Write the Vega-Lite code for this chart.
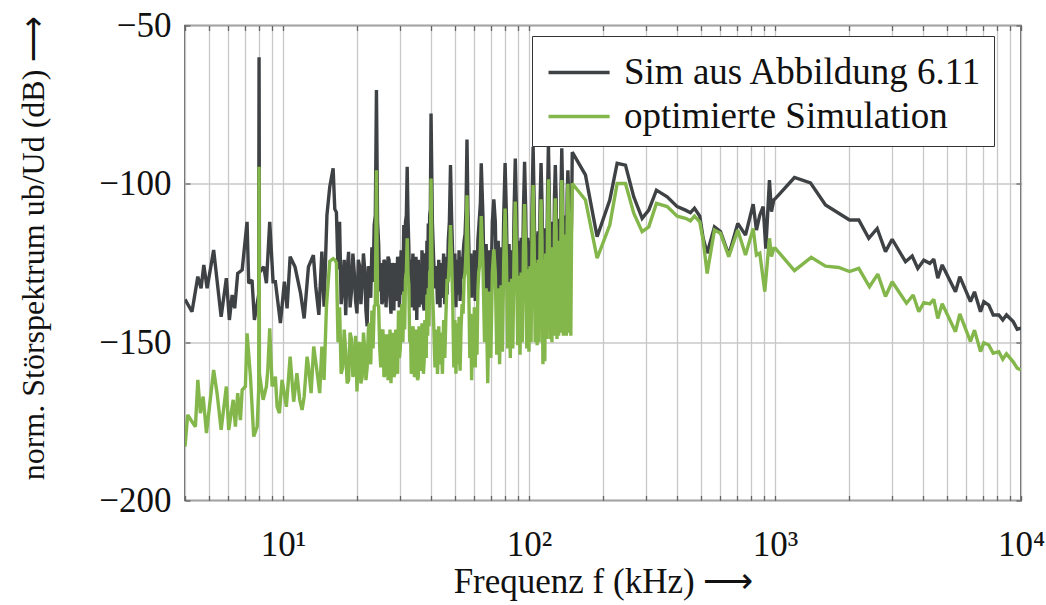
{
  "$schema": "https://vega.github.io/schema/vega-lite/v6.json",
  "autosize": {"type": "none"},
  "width": 836,
  "height": 475,
  "padding": {"left": 185, "top": 25.5, "right": 25, "bottom": 104},
  "background": "white",
  "config": {
    "font": "Liberation Serif",
    "view": {"stroke": "#3a3a3a", "strokeWidth": 1.5},
    "axis": {
      "labelFont": "Liberation Serif",
      "titleFont": "Liberation Serif",
      "labelColor": "#111111",
      "titleColor": "#111111",
      "labelFontSize": 35,
      "titleFontSize": 35,
      "titleFontWeight": "normal",
      "gridColor": "#c8c8c8",
      "gridWidth": 1.3,
      "domain": false,
      "ticks": true,
      "tickSize": -5,
      "tickColor": "#666666",
      "tickWidth": 1.3,
      "labelBound": false,
      "labelOverlap": false,
      "labelFlush": false
    },
    "legend": {
      "orient": "none",
      "legendX": 347,
      "legendY": 10.5,
      "strokeColor": "#333333",
      "fillColor": "white",
      "padding": 11,
      "symbolType": "M-0.85,0H1.75",
      "symbolStrokeWidth": 3.4,
      "symbolSize": 2209,
      "labelFont": "Liberation Serif",
      "labelFontSize": 37,
      "labelColor": "#111111",
      "labelOffset": 30,
      "rowPadding": 0,
      "labelLimit": 700
    }
  },
  "resolve": {"axis": {"x": "independent", "y": "independent"}},
  "datasets": {
    "sim": [
      {"f":4.0,"v":-136.5},{"f":4.27,"v":-140.4},{"f":4.51,"v":-129.3},{"f":4.65,"v":-133.0},{"f":4.77,"v":-125.6},{"f":4.92,"v":-133.0},{"f":5.23,"v":-120.9},{"f":5.61,"v":-142.0},{"f":5.89,"v":-129.8},{"f":6.06,"v":-143.0},{"f":6.22,"v":-135.1},{"f":6.37,"v":-139.3},{"f":6.55,"v":-128.3},{"f":6.83,"v":-127.2},{"f":7.15,"v":-112.0},{"f":7.26,"v":-131.4},{"f":7.49,"v":-130.4},{"f":7.66,"v":-143.0},{"f":7.97,"v":-135},{"f":8.0,"v":-60},{"f":8.03,"v":-128},{"f":8.36,"v":-126.2},{"f":8.57,"v":-131.4},{"f":8.84,"v":-112.0},{"f":9.12,"v":-130.9},{"f":9.32,"v":-130.9},{"f":9.77,"v":-144.0},{"f":10.14,"v":-130.9},{"f":10.4,"v":-139.3},{"f":10.7,"v":-123.0},{"f":11.2,"v":-126.2},{"f":11.8,"v":-134.6},{"f":12.2,"v":-142.5},{"f":12.7,"v":-126.2},{"f":13.3,"v":-122.5},{"f":13.6,"v":-132.5},{"f":14.0,"v":-141.4},{"f":14.4,"v":-121.4},{"f":14.7,"v":-138.8},{"f":15.1,"v":-109.9},{"f":15.5,"v":-101},
      {"f":16,"v":-95.1},{"f":16.25,"v":-108},{"f":16.5,"v":-109},{"f":16.75,"v":-127},{"f":17,"v":-112},{"f":17.25,"v":-138},{"f":17.5,"v":-132},{"f":17.75,"v":-124},{"f":18,"v":-141.5},{"f":18.25,"v":-127},{"f":18.5,"v":-121.5},{"f":18.75,"v":-139},{"f":19,"v":-134},{"f":19.25,"v":-122},{"f":19.5,"v":-128},{"f":19.75,"v":-137},{"f":20,"v":-140.9},{"f":20.25,"v":-124},{"f":20.5,"v":-126},{"f":20.75,"v":-138},{"f":21,"v":-131},{"f":21.25,"v":-122},{"f":21.5,"v":-127},{"f":21.75,"v":-140},{"f":22,"v":-145},{"f":22.25,"v":-126},{"f":22.5,"v":-128},{"f":22.75,"v":-136},{"f":23,"v":-120},{"f":23.25,"v":-131},{"f":23.5,"v":-113},{"f":23.75,"v":-110},{"f":24,"v":-70.4},{"f":24.25,"v":-112},{"f":24.5,"v":-119},{"f":24.75,"v":-134},{"f":25,"v":-125},{"f":25.25,"v":-138},{"f":25.5,"v":-136.7},{"f":25.75,"v":-124},{"f":26,"v":-125},{"f":26.25,"v":-139},{"f":26.5,"v":-131},{"f":26.75,"v":-123},{"f":27,"v":-124},{"f":27.25,"v":-136},{"f":27.5,"v":-141},{"f":27.75,"v":-125},{"f":28,"v":-128},{"f":28.25,"v":-140},{"f":28.5,"v":-125},{"f":28.75,"v":-132},{"f":29,"v":-137},{"f":29.25,"v":-123},{"f":29.5,"v":-126},{"f":29.75,"v":-139},{"f":30,"v":-130},{"f":30.25,"v":-121},{"f":30.5,"v":-124},{"f":30.75,"v":-135},{"f":31,"v":-113},{"f":31.25,"v":-128},{"f":31.5,"v":-112},{"f":31.75,"v":-110},{"f":32,"v":-94.6},{"f":32.25,"v":-111},{"f":32.5,"v":-120},{"f":32.75,"v":-136},{"f":33,"v":-124},{"f":33.25,"v":-139},{"f":33.5,"v":-132},{"f":33.75,"v":-122},{"f":34,"v":-127},{"f":34.25,"v":-140},{"f":34.5,"v":-136},{"f":34.75,"v":-123},{"f":35,"v":-143},{"f":35.25,"v":-127},{"f":35.5,"v":-124},{"f":35.75,"v":-139},{"f":36,"v":-126},{"f":36.25,"v":-137},{"f":36.5,"v":-138},{"f":36.75,"v":-121},{"f":37,"v":-125},{"f":37.25,"v":-138},{"f":37.5,"v":-140},{"f":37.75,"v":-124},{"f":38,"v":-122},{"f":38.25,"v":-135},{"f":38.5,"v":-118},{"f":38.75,"v":-128},{"f":39,"v":-112.5},{"f":39.25,"v":-124},{"f":39.5,"v":-110},{"f":39.75,"v":-108},
      {"f":40,"v":-77.8},{"f":40.5,"v":-112},{"f":41,"v":-124},{"f":41.5,"v":-133},{"f":42,"v":-126},{"f":42.5,"v":-138},{"f":43,"v":-124},{"f":43.5,"v":-139},{"f":44,"v":-125},{"f":44.5,"v":-136},{"f":45,"v":-122},{"f":45.5,"v":-138},{"f":46,"v":-123},{"f":46.5,"v":-135},{"f":47,"v":-118},{"f":47.5,"v":-112},{"f":48,"v":-94.1},{"f":48.5,"v":-111},{"f":49,"v":-123},{"f":49.5,"v":-138},{"f":50,"v":-122},{"f":50.5,"v":-139},{"f":51,"v":-124},{"f":51.5,"v":-135},{"f":52,"v":-121},{"f":52.5,"v":-137},{"f":53,"v":-123},{"f":53.5,"v":-130},{"f":54,"v":-122},{"f":54.5,"v":-118},{"f":55,"v":-116},{"f":55.5,"v":-108},{"f":56,"v":-86.0},{"f":56.5,"v":-108},{"f":57,"v":-120},{"f":57.5,"v":-133},{"f":58,"v":-122},{"f":58.5,"v":-136},{"f":59,"v":-124},{"f":59.5,"v":-131},{"f":60,"v":-121},{"f":60.5,"v":-137},{"f":61,"v":-123},{"f":61.5,"v":-132},{"f":62,"v":-118},{"f":62.5,"v":-114},{"f":63,"v":-110},{"f":63.5,"v":-106},
      {"f":64,"v":-93.5},{"f":65,"v":-110},{"f":66,"v":-137},{"f":67,"v":-119},{"f":68,"v":-139},{"f":69,"v":-121},{"f":70,"v":-136},{"f":71,"v":-112},{"f":72,"v":-104.9},{"f":73,"v":-112},{"f":74,"v":-138},{"f":75,"v":-118},{"f":76,"v":-139},{"f":77,"v":-120},{"f":78,"v":-137},{"f":79,"v":-110},{"f":80,"v":-93.4},{"f":81,"v":-110},{"f":82,"v":-136},{"f":83,"v":-119},{"f":84,"v":-135},{"f":85,"v":-121},{"f":86,"v":-137},{"f":87,"v":-109},{"f":88,"v":-92},{"f":89,"v":-109},{"f":90,"v":-135},{"f":91,"v":-118},{"f":92,"v":-136},{"f":93,"v":-117},{"f":94,"v":-134},{"f":95,"v":-108},{"f":96,"v":-93},{"f":97,"v":-108},{"f":98,"v":-134},{"f":99,"v":-117},{"f":100,"v":-135},{"f":101,"v":-118},{"f":102,"v":-133},{"f":103,"v":-106},{"f":104,"v":-88.3},{"f":105,"v":-106},{"f":106,"v":-132},{"f":107,"v":-116},{"f":108,"v":-133},{"f":109,"v":-115},{"f":110,"v":-131},{"f":111,"v":-106},{"f":112,"v":-93.4},{"f":113,"v":-106},{"f":114,"v":-131},{"f":115,"v":-115},{"f":116,"v":-132},{"f":117,"v":-114},{"f":118,"v":-130},{"f":119,"v":-104},{"f":120,"v":-87.2},{"f":121,"v":-104},{"f":122,"v":-130},{"f":123,"v":-113},{"f":124,"v":-131},{"f":125,"v":-112},{"f":126,"v":-129},{"f":127,"v":-104},{"f":128,"v":-94.1},{"f":129,"v":-104},{"f":130,"v":-129},{"f":131,"v":-112},{"f":132,"v":-128},{"f":133,"v":-111},{"f":134,"v":-129},{"f":135,"v":-102},{"f":136,"v":-88.8},{"f":137,"v":-102},{"f":138,"v":-128},{"f":139,"v":-111},{"f":140,"v":-127},{"f":141,"v":-110},{"f":142,"v":-128},{"f":143,"v":-103},{"f":144,"v":-95.7},{"f":145,"v":-103},{"f":146,"v":-127},{"f":147,"v":-110},{"f":148,"v":-126},{"f":149,"v":-111},{"f":150,"v":-90},
      {"f":169.7,"v":-97.2},{"f":189.3,"v":-116.7},{"f":213.1,"v":-105.1},{"f":228.3,"v":-93.5},{"f":246.8,"v":-94.1},{"f":266.7,"v":-104.1},{"f":288.5,"v":-110.9},{"f":306.9,"v":-108.3},{"f":329.8,"v":-102.0},{"f":364.6,"v":-104.1},{"f":400.5,"v":-107.2},{"f":432.7,"v":-108.3},{"f":453.4,"v":-109.1},{"f":470.8,"v":-107.7},{"f":494.7,"v":-110.2},{"f":510.6,"v":-117.2},{"f":530.1,"v":-121.9},{"f":567.6,"v":-113.6},{"f":600.5,"v":-115.1},{"f":649,"v":-122.5},{"f":706,"v":-112.5},{"f":759,"v":-116.2},{"f":815.5,"v":-106.4},{"f":840.9,"v":-114.6},{"f":867.4,"v":-109.9},{"f":895.4,"v":-107.2},{"f":918,"v":-120.5},{"f":949.6,"v":-98.8},{"f":967.8,"v":-108.8},{"f":988.8,"v":-105.1},{"f":1004.7,"v":-104.6},{"f":1036,"v":-103.5},{"f":1200,"v":-98.0},{"f":1394,"v":-99.7},{"f":1605,"v":-106.7},{"f":2009,"v":-111.4},{"f":2191,"v":-111.4},{"f":2406,"v":-117.2},{"f":2603,"v":-114.1},{"f":2813,"v":-121.4},{"f":2995,"v":-117.5},{"f":3393,"v":-124.6},{"f":3612,"v":-122.8},{"f":3806,"v":-126.7},{"f":4026,"v":-124.1},{"f":4259,"v":-125.1},{"f":4421,"v":-123.8},{"f":4590,"v":-129.8},{"f":4783,"v":-125.6},{"f":5416,"v":-134.1},{"f":5640,"v":-129.3},{"f":6232,"v":-137.2},{"f":6471,"v":-134.1},{"f":6845,"v":-140.4},{"f":7062,"v":-137.2},{"f":7398,"v":-138.3},{"f":7709,"v":-141.4},{"f":8125,"v":-141.4},{"f":8433,"v":-143.0},{"f":8730,"v":-141.4},{"f":9296,"v":-143.5},{"f":9651,"v":-145.9},{"f":10000,"v":-145.6}
    ],
    "opt": [
      {"f":4.0,"v":-183},{"f":4.10,"v":-173.0},{"f":4.41,"v":-176.7},{"f":4.51,"v":-161.9},{"f":4.62,"v":-172.4},{"f":4.74,"v":-167.2},{"f":4.89,"v":-178.7},{"f":5.23,"v":-158.8},{"f":5.40,"v":-166.1},{"f":5.61,"v":-177.7},{"f":5.89,"v":-164.0},{"f":6.02,"v":-177.7},{"f":6.28,"v":-168.2},{"f":6.41,"v":-176.7},{"f":6.55,"v":-166.1},{"f":6.72,"v":-174.6},{"f":6.83,"v":-165.1},{"f":7.04,"v":-164.0},{"f":7.15,"v":-147.2},{"f":7.38,"v":-160.9},{"f":7.61,"v":-179.8},{"f":7.86,"v":-176.7},{"f":7.97,"v":-165},{"f":8.0,"v":-94.6},{"f":8.03,"v":-160},{"f":8.31,"v":-168.2},{"f":8.57,"v":-164.0},{"f":8.68,"v":-158.8},{"f":8.84,"v":-145.6},{"f":9.04,"v":-164.0},{"f":9.32,"v":-160.9},{"f":9.47,"v":-170.4},{"f":9.68,"v":-172.4},{"f":9.92,"v":-161.9},{"f":10.33,"v":-170.4},{"f":10.7,"v":-154.6},{"f":11.06,"v":-168.8},{"f":11.4,"v":-159.8},{"f":11.7,"v":-168.2},{"f":11.97,"v":-171.4},{"f":12.2,"v":-167.2},{"f":12.54,"v":-154.6},{"f":12.7,"v":-157.7},{"f":13.02,"v":-166.1},{"f":13.34,"v":-151.4},{"f":13.68,"v":-157.7},{"f":14.11,"v":-166.1},{"f":14.4,"v":-151.4},{"f":14.7,"v":-161.9},{"f":15.03,"v":-138.8},{"f":15.5,"v":-124.5},
      {"f":16,"v":-123.6},{"f":16.25,"v":-124},{"f":16.5,"v":-125},{"f":16.75,"v":-150},{"f":17,"v":-139},{"f":17.25,"v":-160},{"f":17.5,"v":-158},{"f":17.75,"v":-146},{"f":18,"v":-153},{"f":18.25,"v":-163},{"f":18.5,"v":-162},{"f":18.75,"v":-147},{"f":19,"v":-149},{"f":19.25,"v":-161},{"f":19.5,"v":-158},{"f":19.75,"v":-148},{"f":20,"v":-165.6},{"f":20.25,"v":-151},{"f":20.5,"v":-150},{"f":20.75,"v":-163},{"f":21,"v":-161},{"f":21.25,"v":-147},{"f":21.5,"v":-152},{"f":21.75,"v":-162},{"f":22,"v":-158},{"f":22.25,"v":-146},{"f":22.5,"v":-144},{"f":22.75,"v":-157},{"f":23,"v":-140},{"f":23.25,"v":-152},{"f":23.5,"v":-138.8},{"f":23.75,"v":-138},{"f":24,"v":-95.7},{"f":24.25,"v":-138},{"f":24.5,"v":-138.8},{"f":24.75,"v":-152},{"f":25,"v":-158},{"f":25.25,"v":-147},{"f":25.5,"v":-146},{"f":25.75,"v":-161},{"f":26,"v":-160},{"f":26.25,"v":-148},{"f":26.5,"v":-148},{"f":26.75,"v":-162},{"f":27,"v":-158},{"f":27.25,"v":-146},{"f":27.5,"v":-163},{"f":27.75,"v":-149},{"f":28,"v":-147},{"f":28.25,"v":-161},{"f":28.5,"v":-160},{"f":28.75,"v":-146},{"f":29,"v":-152},{"f":29.25,"v":-160},{"f":29.5,"v":-140},{"f":29.75,"v":-155},{"f":30,"v":-152},{"f":30.25,"v":-141},{"f":30.5,"v":-138},{"f":30.75,"v":-150},{"f":31,"v":-134},{"f":31.25,"v":-146},{"f":31.5,"v":-130},{"f":31.75,"v":-128},{"f":32,"v":-117.2},{"f":32.25,"v":-129},{"f":32.5,"v":-132},{"f":32.75,"v":-150},{"f":33,"v":-146},{"f":33.25,"v":-160},{"f":33.5,"v":-159},{"f":33.75,"v":-145},{"f":34,"v":-147},{"f":34.25,"v":-161},{"f":34.5,"v":-160},{"f":34.75,"v":-146},{"f":35,"v":-149},{"f":35.25,"v":-162},{"f":35.5,"v":-161},{"f":35.75,"v":-145},{"f":36,"v":-146},{"f":36.25,"v":-159},{"f":36.5,"v":-158},{"f":36.75,"v":-144},{"f":37,"v":-147},{"f":37.25,"v":-160},{"f":37.5,"v":-156},{"f":37.75,"v":-143},{"f":38,"v":-144},{"f":38.25,"v":-155},{"f":38.5,"v":-135},{"f":38.75,"v":-148},{"f":39,"v":-133},{"f":39.25,"v":-145},{"f":39.5,"v":-128},{"f":39.75,"v":-127},
      {"f":40,"v":-98.3},{"f":40.5,"v":-133},{"f":41,"v":-144},{"f":41.5,"v":-158},{"f":42,"v":-146},{"f":42.5,"v":-160},{"f":43,"v":-145},{"f":43.5,"v":-157},{"f":44,"v":-147},{"f":44.5,"v":-160},{"f":45,"v":-143},{"f":45.5,"v":-155},{"f":46,"v":-141},{"f":46.5,"v":-130},{"f":47,"v":-131},{"f":47.5,"v":-124},{"f":48,"v":-113},{"f":48.5,"v":-124},{"f":49,"v":-137},{"f":49.5,"v":-158},{"f":50,"v":-143},{"f":50.5,"v":-160},{"f":51,"v":-144},{"f":51.5,"v":-157},{"f":52,"v":-142},{"f":52.5,"v":-159},{"f":53,"v":-145},{"f":53.5,"v":-138},{"f":54,"v":-141},{"f":54.5,"v":-130},{"f":55,"v":-128},{"f":55.5,"v":-122},{"f":56,"v":-103.6},{"f":56.5,"v":-121},{"f":57,"v":-135},{"f":57.5,"v":-155},{"f":58,"v":-141},{"f":58.5,"v":-162},{"f":59,"v":-142},{"f":59.5,"v":-155},{"f":60,"v":-139},{"f":60.5,"v":-158},{"f":61,"v":-140},{"f":61.5,"v":-154},{"f":62,"v":-134},{"f":62.5,"v":-128},{"f":63,"v":-126},{"f":63.5,"v":-120},
      {"f":64,"v":-110.2},{"f":65,"v":-125},{"f":66,"v":-150},{"f":67,"v":-133},{"f":68,"v":-163},{"f":69,"v":-134},{"f":70,"v":-155},{"f":71,"v":-128},{"f":72,"v":-120.7},{"f":73,"v":-128},{"f":74,"v":-154},{"f":75,"v":-133},{"f":76,"v":-157},{"f":77,"v":-132},{"f":78,"v":-153},{"f":79,"v":-124},{"f":80,"v":-107.8},{"f":81,"v":-124},{"f":82,"v":-152},{"f":83,"v":-131},{"f":84,"v":-155},{"f":85,"v":-130},{"f":86,"v":-152},{"f":87,"v":-122},{"f":88,"v":-105.6},{"f":89,"v":-122},{"f":90,"v":-151},{"f":91,"v":-129},{"f":92,"v":-154},{"f":93,"v":-128},{"f":94,"v":-150},{"f":95,"v":-121},{"f":96,"v":-106.4},{"f":97,"v":-121},{"f":98,"v":-152},{"f":99,"v":-127},{"f":100,"v":-153},{"f":101,"v":-126},{"f":102,"v":-150},{"f":103,"v":-118},{"f":104,"v":-100.4},{"f":105,"v":-118},{"f":106,"v":-150},{"f":107,"v":-125},{"f":108,"v":-151},{"f":109,"v":-124},{"f":110,"v":-150},{"f":111,"v":-118},{"f":112,"v":-104.9},{"f":113,"v":-118},{"f":114,"v":-157},{"f":115,"v":-124},{"f":116,"v":-156},{"f":117,"v":-122},{"f":118,"v":-149},{"f":119,"v":-114},{"f":120,"v":-98.6},{"f":121,"v":-114},{"f":122,"v":-149},{"f":123,"v":-121},{"f":124,"v":-150},{"f":125,"v":-120},{"f":126,"v":-148},{"f":127,"v":-115},{"f":128,"v":-104.6},{"f":129,"v":-115},{"f":130,"v":-149},{"f":131,"v":-119},{"f":132,"v":-148},{"f":133,"v":-118},{"f":134,"v":-147},{"f":135,"v":-112},{"f":136,"v":-98.8},{"f":137,"v":-112},{"f":138,"v":-148},{"f":139,"v":-117},{"f":140,"v":-146},{"f":141,"v":-116},{"f":142,"v":-148},{"f":143,"v":-113},{"f":144,"v":-100},{"f":145,"v":-113},{"f":146,"v":-147},{"f":147,"v":-115},{"f":148,"v":-148},{"f":149,"v":-116},{"f":150,"v":-99.9},
      {"f":169.7,"v":-105.1},{"f":189.3,"v":-123.5},{"f":213.1,"v":-113.0},{"f":228.3,"v":-99.9},{"f":246.8,"v":-99.9},{"f":266.7,"v":-109.3},{"f":288.5,"v":-115.1},{"f":306.9,"v":-113.6},{"f":329.8,"v":-106.2},{"f":364.6,"v":-107.2},{"f":400.5,"v":-110.2},{"f":432.7,"v":-110.9},{"f":453.4,"v":-111.7},{"f":470.8,"v":-110.2},{"f":494.7,"v":-112.0},{"f":510.6,"v":-117.8},{"f":530.1,"v":-128.3},{"f":567.6,"v":-114.6},{"f":600.5,"v":-115.6},{"f":649,"v":-123.0},{"f":706,"v":-114.6},{"f":759,"v":-122.5},{"f":815.5,"v":-114.1},{"f":840.9,"v":-122.5},{"f":867.4,"v":-121.9},{"f":909,"v":-134},{"f":949.6,"v":-117.2},{"f":967.8,"v":-123.0},{"f":988.8,"v":-120.4},{"f":1004.7,"v":-120.4},{"f":1200,"v":-127.4},{"f":1404,"v":-123.2},{"f":1605,"v":-126.0},{"f":1817,"v":-126.4},{"f":2009,"v":-127.7},{"f":2191,"v":-126.7},{"f":2422,"v":-132.5},{"f":2618,"v":-128.5},{"f":2813,"v":-135.6},{"f":2995,"v":-130.9},{"f":3425,"v":-137.7},{"f":3646,"v":-135.1},{"f":3842,"v":-140.4},{"f":4026,"v":-137.5},{"f":4259,"v":-137.9},{"f":4421,"v":-136.5},{"f":4590,"v":-142.5},{"f":4783,"v":-137.9},{"f":5416,"v":-146.7},{"f":5640,"v":-141.1},{"f":6232,"v":-149.8},{"f":6471,"v":-146.2},{"f":6845,"v":-153.0},{"f":7062,"v":-150.2},{"f":7398,"v":-150.9},{"f":7709,"v":-153.5},{"f":8125,"v":-153.0},{"f":8433,"v":-155.4},{"f":8730,"v":-153.7},{"f":9296,"v":-156.2},{"f":9651,"v":-158.2},{"f":10000,"v":-158.8}
    ]
  },
  "layer": [
    {
      "data": {"name": "sim"},
      "mark": {"type": "line", "strokeWidth": 3.4, "clip": true, "strokeJoin": "miter", "strokeMiterLimit": 2},
      "encoding": {
        "x": {
          "field": "f",
          "type": "quantitative",
          "scale": {"type": "log", "domain": [4, 10000], "nice": false},
          "axis": {
            "title": "Frequenz f (kHz) ⟶",
            "values": [4,5,6,7,8,9,10,20,30,40,50,60,70,80,90,100,200,300,400,500,600,700,800,900,1000,2000,3000,4000,5000,6000,7000,8000,9000,10000],
            "labelExpr": "datum.value == 10 ? '10¹' : datum.value == 100 ? '10²' : datum.value == 1000 ? '10³' : datum.value == 10000 ? '10⁴' : ''",
            "grid": true,
            "labelPadding": 32,
            "titlePadding": 2
          }
        },
        "y": {
          "field": "v",
          "type": "quantitative",
          "scale": {"domain": [-200, -50], "nice": false, "zero": false},
          "axis": {
            "title": "norm. Störspektrum ub/Ud (dB) ⟶",
            "titleFontSize": 32,
            "values": [-200, -150, -100, -50],
            "labelExpr": "'−' + abs(datum.value)",
            "grid": true,
            "labelPadding": 19,
            "titlePadding": 48,
            "titleY": 222
          }
        },
        "color": {
          "datum": "Sim aus Abbildung 6.11",
          "scale": {"domain": ["Sim aus Abbildung 6.11", "optimierte Simulation"], "range": ["#3f4244", "#84b74b"]},
          "legend": {"title": null, "labelExpr": "datum.label + '\u00a0\u00a0\u00a0'"}
        }
      }
    },
    {
      "data": {"name": "opt"},
      "mark": {"type": "line", "strokeWidth": 3.4, "clip": true, "strokeJoin": "miter", "strokeMiterLimit": 2},
      "encoding": {
        "x": {
          "field": "f",
          "type": "quantitative",
          "scale": {"type": "log", "domain": [4, 10000], "nice": false},
          "axis": {
            "orient": "top",
            "title": null,
            "labels": false,
            "grid": false,
            "values": [4,5,6,7,8,9,10,20,30,40,50,60,70,80,90,100,200,300,400,500,600,700,800,900,1000,2000,3000,4000,5000,6000,7000,8000,9000,10000]
          }
        },
        "y": {
          "field": "v",
          "type": "quantitative",
          "scale": {"domain": [-200, -50], "nice": false, "zero": false},
          "axis": {
            "orient": "right",
            "title": null,
            "labels": false,
            "grid": false,
            "values": [-200, -150, -100, -50]
          }
        },
        "color": {"datum": "optimierte Simulation"}
      }
    }
  ]
}
